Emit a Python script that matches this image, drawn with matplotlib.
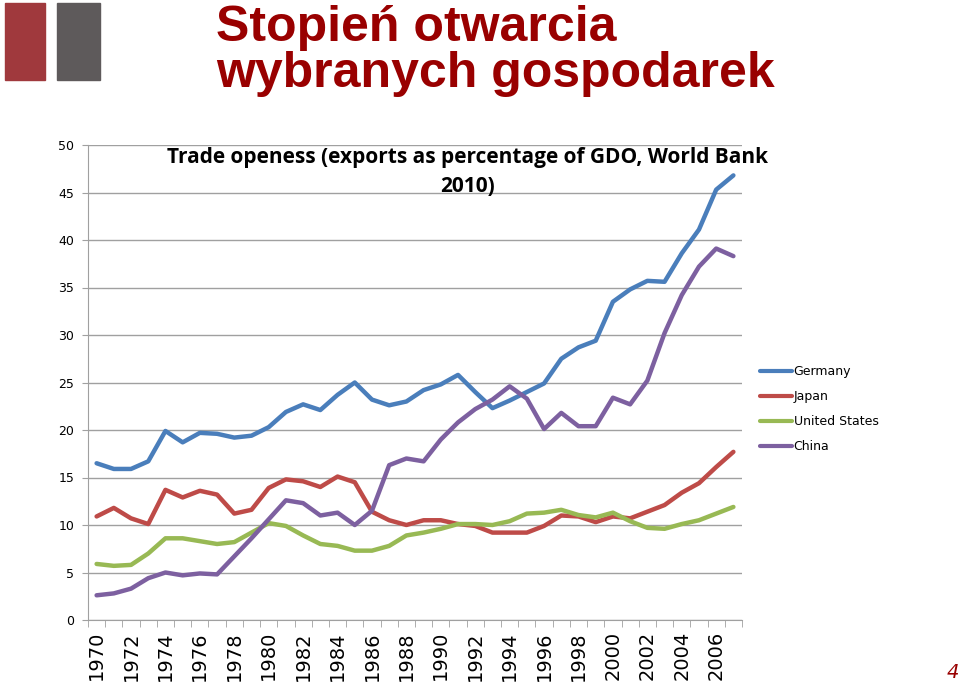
import matplotlib
matplotlib.use('Agg')
import matplotlib.pyplot as plt
import matplotlib.patches as mpatches
import numpy as np

years = list(range(1970, 2008))

germany = [16.5, 15.9, 15.9, 16.7, 19.9, 18.7, 19.7, 19.6, 19.2, 19.4,
           20.3, 21.9, 22.7, 22.1, 23.7, 25.0, 23.2, 22.6, 23.0, 24.2,
           24.8, 25.8, 24.0, 22.3, 23.1, 24.0, 24.9, 27.5, 28.7, 29.4,
           33.5, 34.8, 35.7, 35.6, 38.6, 41.1, 45.3, 46.8]
japan = [10.9, 11.8, 10.7, 10.1, 13.7, 12.9, 13.6, 13.2, 11.2, 11.6,
         13.9, 14.8, 14.6, 14.0, 15.1, 14.5, 11.4, 10.5, 10.0, 10.5,
         10.5, 10.1, 9.9, 9.2, 9.2, 9.2, 9.9, 11.0, 10.9, 10.3,
         10.9, 10.7, 11.4, 12.1, 13.4, 14.4, 16.1, 17.7]
usa = [5.9, 5.7, 5.8, 7.0, 8.6, 8.6, 8.3, 8.0, 8.2, 9.2,
       10.2, 9.9, 8.9, 8.0, 7.8, 7.3, 7.3, 7.8, 8.9, 9.2,
       9.6, 10.1, 10.1, 10.0, 10.4, 11.2, 11.3, 11.6, 11.05, 10.8,
       11.3, 10.4, 9.7, 9.6, 10.1, 10.5, 11.2, 11.9]
china = [2.6, 2.8, 3.3, 4.4, 5.0, 4.7, 4.9, 4.8, 6.7, 8.6,
         10.6, 12.6, 12.3, 11.0, 11.3, 10.0, 11.5, 16.3, 17.0, 16.7,
         19.0, 20.8, 22.2, 23.2, 24.6, 23.3, 20.1, 21.8, 20.4, 20.4,
         23.4, 22.7, 25.2, 30.2, 34.2, 37.2, 39.1, 38.3]

series = [('Germany', germany, '#4A7EBB'),
          ('Japan', japan, '#BE4B48'),
          ('United States', usa, '#98B954'),
          ('China', china, '#7D60A0')]

fig = plt.figure(figsize=(9.6, 6.85), dpi=100)

# header decoration
fig.patches.append(mpatches.Rectangle((5/960, 1-80/685), 40/960, 77/685,
                                      transform=fig.transFigure, color='#A0393D'))
fig.patches.append(mpatches.Rectangle((57/960, 1-80/685), 43/960, 77/685,
                                      transform=fig.transFigure, color='#5E5A5B'))
head_font = ['Liberation Sans Narrow', 'Liberation Sans']
fig.text(216/960, 1-41/685, 'Stopień otwarcia', fontsize=36, fontweight='bold',
         family=head_font, color='#990000', ha='left', va='baseline')
fig.text(216/960, 1-87/685, 'wybranych gospodarek', fontsize=36, fontweight='bold',
         family=head_font, color='#990000', ha='left', va='baseline')
fig.text(953/960, 1-673/685, '4', fontsize=14, style='italic', color='#990000',
         ha='center', va='center')

ax = fig.add_axes([88/960, 1-620/685, (742-88)/960, (620-145)/685])
x = np.arange(len(years))
for name, vals, col in series:
    ax.plot(x, vals, color=col, lw=3.2, label=name, solid_capstyle='round')

ax.set_xlim(-0.5, len(years) - 0.5)
ax.set_ylim(0, 50)
ax.set_yticks(range(0, 51, 5))
ax.yaxis.grid(True, color='#A0A0A0', lw=1)
ax.set_axisbelow(True)
for s in ['top', 'right']:
    ax.spines[s].set_visible(False)
ax.spines['left'].set_color('#A0A0A0')
ax.spines['bottom'].set_color('#A0A0A0')
ax.tick_params(axis='y', labelsize=9, length=4, color='#A0A0A0', pad=6)

ax.set_xticks(x[::2])
ax.set_xticklabels([str(y) for y in years[::2]], rotation=90, fontsize=14,
                   family='DejaVu Sans')
ax.set_xticks(np.arange(-0.5, len(years)), minor=True)
ax.tick_params(axis='x', which='major', length=0, pad=8)
ax.tick_params(axis='x', which='minor', length=5, color='#A0A0A0')

ax.text(0.581, 0.995, 'Trade openess (exports as percentage of GDO, World Bank\n2010)',
        transform=ax.transAxes, ha='center', va='top', fontsize=15,
        fontweight='bold', family='Open Sans', linespacing=1.5)

leg = ax.legend(loc='upper left', bbox_to_anchor=(1.01, 0.56), frameon=False,
                fontsize=9, handlelength=2.6, handletextpad=0.1,
                labelspacing=0.95)
for line in leg.get_lines():
    line.set_linewidth(3)

fig.savefig('out.png', dpi=100)
